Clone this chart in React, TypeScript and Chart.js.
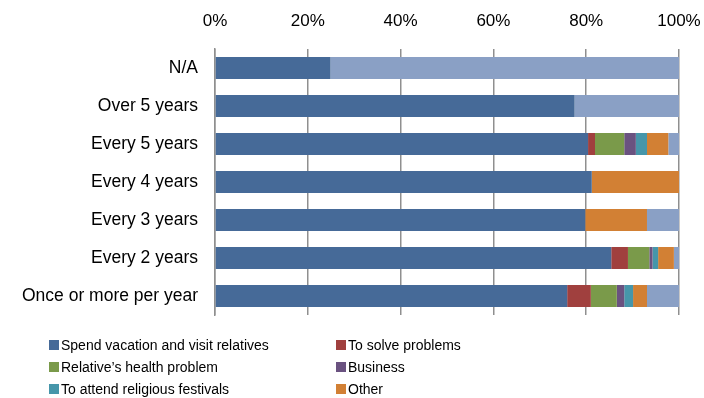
import React, { useEffect, useRef } from "react";
import { Chart, registerables } from "chart.js";

Chart.register(...registerables);

const categories = [
  "N/A",
  "Over 5 years",
  "Every 5 years",
  "Every 4 years",
  "Every 3 years",
  "Every 2 years",
  "Once or more per year",
];

const vacation = [24.9, 77.5, 80.4, 81.2, 79.8, 85.4, 75.9];
const solveProblems = [0, 0, 1.5, 0, 0, 3.6, 5.1];
const healthProblem = [0, 0, 6.3, 0, 0, 4.6, 5.6];
const business = [0, 0, 2.5, 0, 0, 0.7, 1.6];
const religious = [0, 0, 2.4, 0, 0, 1.2, 1.9];
const other = [0, 0, 4.6, 18.8, 13.3, 3.4, 3.0];
const noAnswer = [75.1, 22.5, 2.3, 0, 6.9, 1.1, 6.9];

const xTicks = [0, 20, 40, 60, 80, 100];

const seriesNames = [
  "Spend vacation and visit relatives",
  "To solve problems",
  "Relative\u2019s health problem",
  "Business",
  "To attend religious festivals",
  "Other",
  "N/A",
];
const seriesColors = ["#466A98", "#A0403E", "#7A9A4A", "#6A5280", "#4696AA", "#D28034", "#8AA0C5"];
const seriesData = [vacation, solveProblems, healthProblem, business, religious, other, noAnswer];

const FONT = "'Liberation Sans', Arial, sans-serif";

const legendPlugin = {
  id: "customLegend",
  afterDraw(chart: any) {
    const ctx = chart.ctx;
    const cols = [49, 336];
    const rows = [345, 367, 389];
    ctx.save();
    ctx.font = `14px ${FONT}`;
    ctx.textBaseline = "middle";
    ctx.textAlign = "left";
    for (let i = 0; i < 6; i++) {
      const x = cols[i % 2];
      const y = rows[Math.floor(i / 2)];
      ctx.fillStyle = seriesColors[i];
      ctx.fillRect(x, y - 5, 10, 10);
      ctx.fillStyle = "#000";
      ctx.fillText(seriesNames[i], x + 12, y + 1);
    }
    ctx.restore();
  },
};

export default function App() {
  const ref = useRef<HTMLCanvasElement | null>(null);
  useEffect(() => {
    if (!ref.current) return;
    const chart = new Chart(ref.current, {
      type: "bar",
      data: {
        labels: categories,
        datasets: seriesData.map((d, i) => ({
          label: seriesNames[i],
          data: d,
          backgroundColor: seriesColors[i],
          borderWidth: 0,
          barPercentage: 0.58,
          categoryPercentage: 1,
        })),
      },
      options: {
        indexAxis: "y",
        animation: false,
        responsive: false,
        maintainAspectRatio: false,
        layout: { padding: { left: 0, top: 0, right: 25, bottom: 83 } },
        plugins: { legend: { display: false }, tooltip: { enabled: false } },
        scales: {
          x: {
            position: "top",
            stacked: true,
            min: 0,
            max: 100,
            afterBuildTicks: (s: any) => {
              s.ticks = xTicks.map((v) => ({ value: v }));
            },
            afterFit: (s: any) => {
              s.height = 49;
              s.paddingLeft = 0;
              s.paddingRight = 0;
            },
            ticks: {
              callback: (v: any) => v + "%",
              color: "#000",
              font: { family: FONT, size: 17 },
              padding: 17,
            },
            grid: { color: "#8f8f8f", lineWidth: 1.5, drawTicks: false },
            border: { display: false },
          },
          y: {
            stacked: true,
            afterFit: (s: any) => {
              s.width = 215;
            },
            ticks: {
              color: "#000",
              font: { family: FONT, size: 17.5 },
              padding: 17,
            },
            grid: { display: false, drawTicks: false },
            border: { display: true, color: "#8f8f8f", width: 1.5 },
          },
        },
      },
      plugins: [legendPlugin],
    });
    return () => chart.destroy();
  }, []);
  return (
    <div style={{ position: "fixed", left: 0, top: 0, width: 704, height: 398, background: "#fff" }}>
      <canvas ref={ref} width={704} height={398} style={{ width: 704, height: 398 }} />
    </div>
  );
}
